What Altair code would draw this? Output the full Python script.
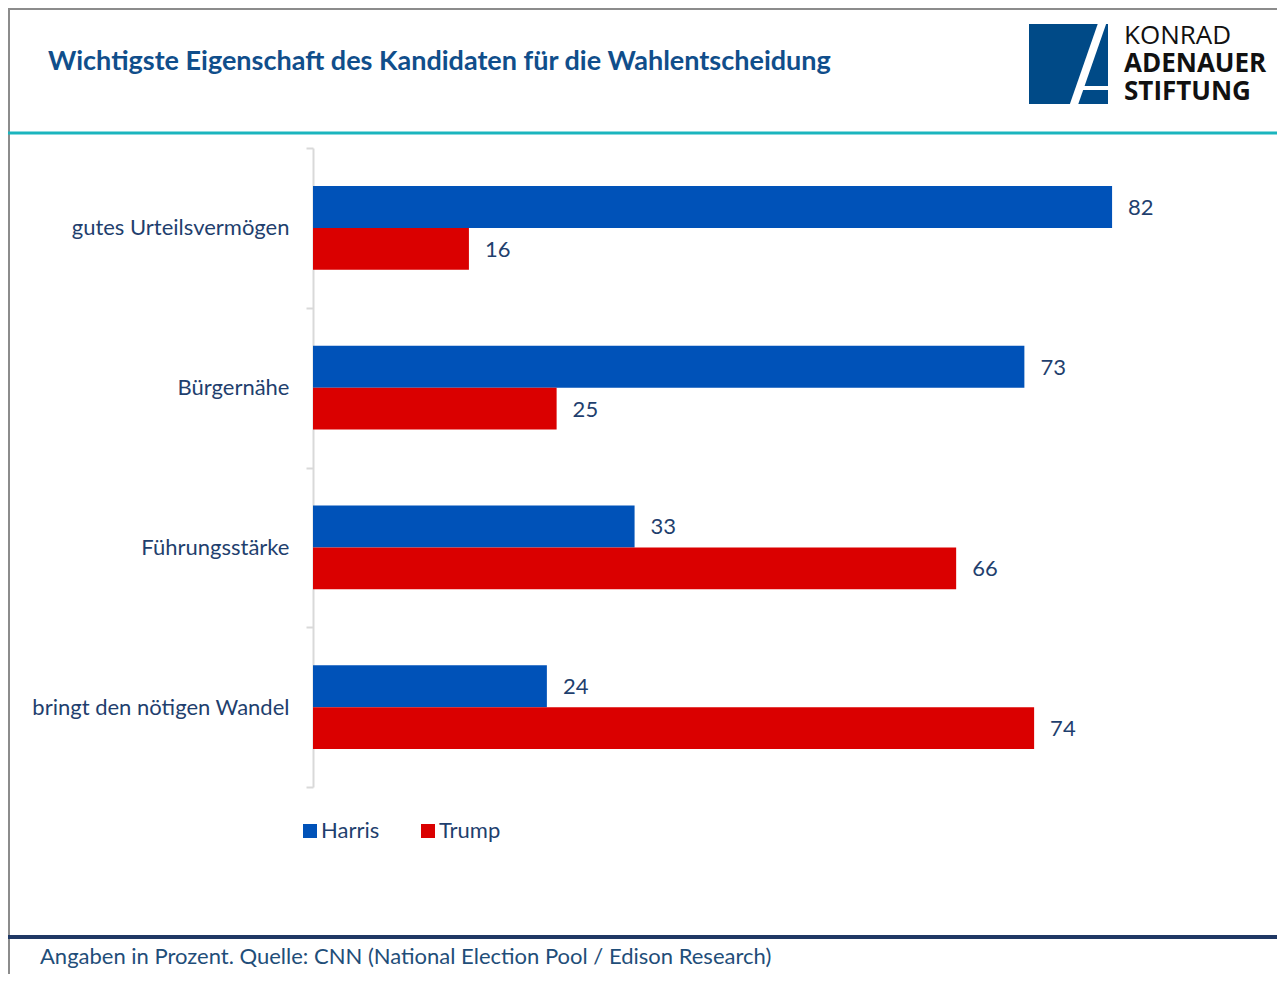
import altair as alt
import pandas as pd

# ---- data ----
categories = ["gutes Urteilsvermögen", "Bürgernähe", "Führungsstärke", "bringt den nötigen Wandel"]
harris = [82, 73, 33, 24]
trump = [16, 25, 66, 74]
series = ["Harris", "Trump"]
colors = ["#0052B8", "#DA0000"]

title_text = "Wichtigste Eigenschaft des Kandidaten für die Wahlentscheidung"
footer_text = "Angaben in Prozent. Quelle: CNN (National Election Pool / Edison Research)"
logo_lines = ["KONRAD", "ADENAUER", "STIFTUNG"]

rows = []
for c, h, t in zip(categories, harris, trump):
    rows.append({"cat": c, "series": "Harris", "value": h})
    rows.append({"cat": c, "series": "Trump", "value": t})
df = pd.DataFrame(rows)

FONT = "Lato"
TXT = "#1F3F6E"
W, H = 955, 639

base = alt.Chart(df)
y = alt.Y(
    "cat:N",
    sort=categories,
    scale=alt.Scale(paddingInner=0, paddingOuter=0),
    axis=alt.Axis(
        title=None, domainColor="#D9D9D9", domainWidth=2,
        tickColor="#D9D9D9", tickWidth=2, tickSize=7, tickBand="extent",
        labelFont=FONT, labelFontSize=22, labelColor=TXT, labelPadding=17,
        labelLimit=400,
    ),
)
yoff = alt.YOffset("series:N", sort=series, scale=alt.Scale(paddingInner=0, paddingOuter=0.905))
x = alt.X("value:Q", scale=alt.Scale(domain=[0, 98]), axis=None)

bars = base.mark_bar().encode(
    x=x, y=y, yOffset=yoff,
    color=alt.Color(
        "series:N",
        scale=alt.Scale(domain=series, range=colors),
        legend=alt.Legend(
            title=None, orient="none", legendX=-14, legendY=672,
            direction="horizontal", symbolType="square", symbolSize=196,
            symbolStrokeWidth=0, labelFont=FONT, labelFontSize=22,
            labelColor=TXT, labelOffset=0, columnPadding=37,
        ),
    ),
)
labels = base.mark_text(
    align="left", baseline="middle", dx=16, dy=1, font=FONT, fontSize=22, color=TXT
).encode(x=x, y=y, yOffset=yoff, text="value:Q")

dummy = alt.Chart(pd.DataFrame({"a": [0]}))


def rule(x1, x2, y1, y2, color, sw):
    return dummy.mark_rule(color=color, strokeWidth=sw).encode(
        x=alt.value(x1), x2=alt.value(x2), y=alt.value(y1), y2=alt.value(y2)
    )


def text(t, xx, yy, size, color, weight="normal", font=FONT, lh=None):
    kw = {}
    if lh is not None:
        kw["lineHeight"] = lh
    return dummy.mark_text(
        text=t, align="left", baseline="middle", fontSize=size,
        fontWeight=weight, font=font, color=color, **kw,
    ).encode(x=alt.value(xx), y=alt.value(yy))


deco = [
    rule(-305, 970, -139, -139, "#8C8C8C", 2),
    rule(-304, -304, -140, 830, "#8C8C8C", 2),
    rule(-305, 970, -15, -15, "#1BB5BE", 3),
    rule(-305, 970, 789, 789, "#1F3864", 4),
    dummy.mark_rect(color="#004A87").encode(
        x=alt.value(716), x2=alt.value(795), y=alt.value(-124), y2=alt.value(-44)
    ),
    rule(791, 759, -130, -38, "white", 8),
    rule(764, 798, -60, -60, "white", 4),
    text(title_text, -265, -86, 27, "#104E8B", "bold"),
    text(footer_text, -273, 809, 22, "#1F4E79"),
    text(logo_lines[0], 811, -112, 26, "#111111", "normal", "Open Sans"),
    text([logo_lines[1], logo_lines[2]], 811, -84, 26, "#111111", "bold", "Open Sans", 28),
]

chart = alt.layer(bars, labels, *deco).properties(
    width=W, height=H,
    padding={"left": 305, "top": 140, "right": 9, "bottom": 187},
    autosize=alt.AutoSizeParams(type="none"),
    background="white",
).configure_view(stroke=None)

chart.save("out.html", embed_options={"renderer": "svg", "actions": False})
